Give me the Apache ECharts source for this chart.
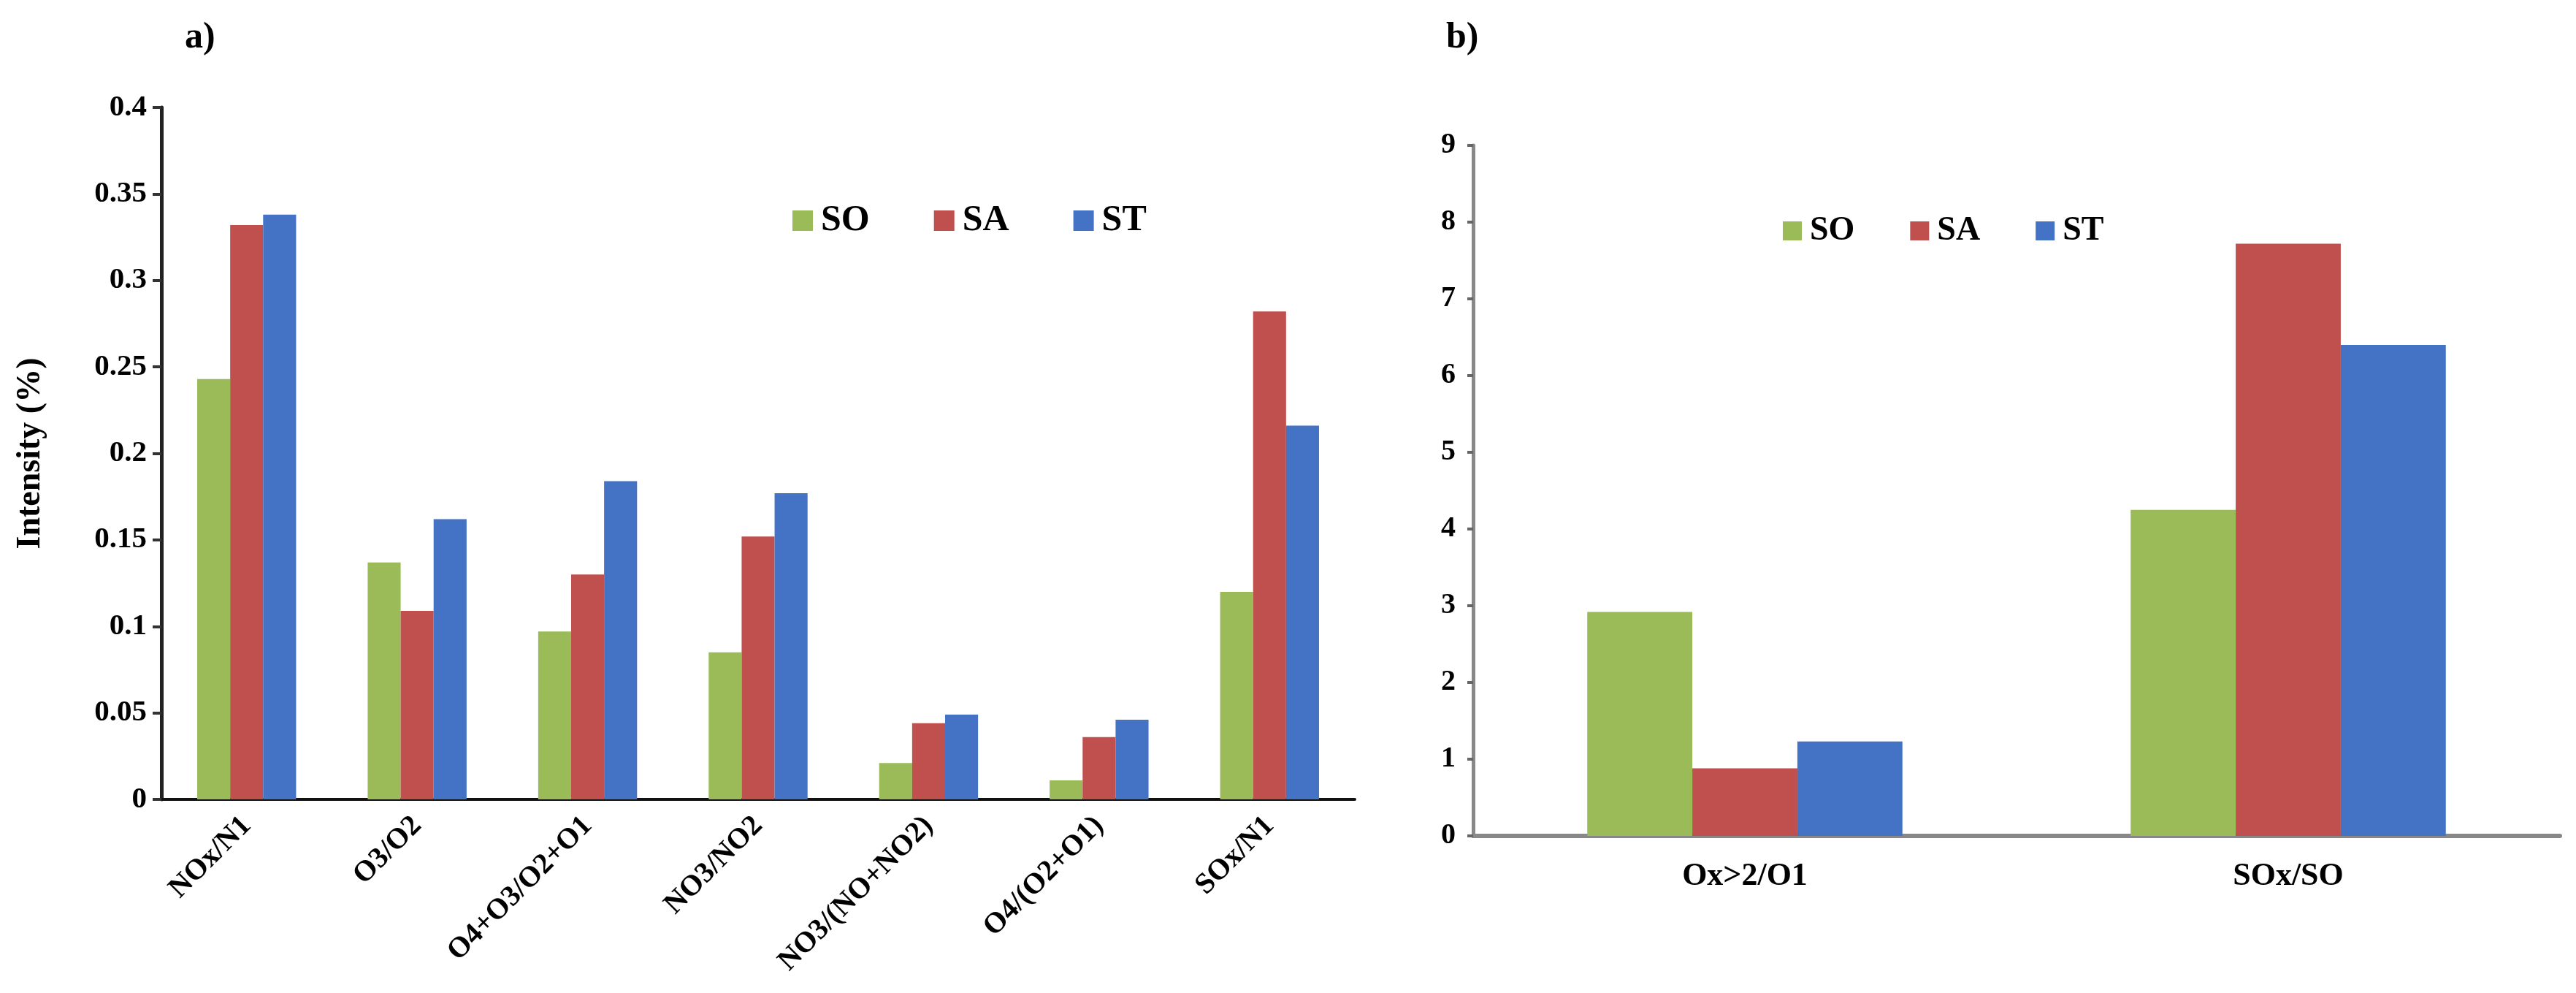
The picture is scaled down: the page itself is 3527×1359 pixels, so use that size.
<!DOCTYPE html>
<html>
<head>
<meta charset="utf-8">
<script src="https://cdn.jsdelivr.net/npm/echarts@6/dist/echarts.min.js"></script>
<style>
html,body{margin:0;padding:0;background:#fff;}
#c{width:3527px;height:1359px;}
</style>
</head>
<body>
<div id="c"></div>
<script>
const seriesNames = ['SO', 'SA', 'ST'];
const leftCategories = ['NOx/N1', 'O3/O2', 'O4+O3/O2+O1', 'NO3/NO2', 'NO3/(NO+NO2)', 'O4/(O2+O1)', 'SOx/N1'];
const leftSO = [0.243, 0.137, 0.097, 0.085, 0.021, 0.011, 0.120];
const leftSA = [0.332, 0.109, 0.130, 0.152, 0.044, 0.036, 0.282];
const leftST = [0.338, 0.162, 0.184, 0.177, 0.049, 0.046, 0.216];
const rightCategories = ['Ox>2/O1', 'SOx/SO'];
const rightSO = [2.92, 4.25];
const rightSA = [0.88, 7.72];
const rightST = [1.23, 6.40];
const colors = ['#9BBB59', '#C0504D', '#4472C4'];

const FONT = '"Liberation Serif", "Times New Roman", serif';
const chart = echarts.init(document.getElementById('c'), null, {renderer: 'canvas'});

function bar(name, data, idx, color) {
  return {
    name: name, type: 'bar', data: data,
    xAxisIndex: idx, yAxisIndex: idx,
    barGap: '0%', barCategoryGap: '42%',
    itemStyle: {color: color},
    emphasis: {disabled: true}
  };
}

const option = {
  backgroundColor: '#ffffff',
  animation: false,
  textStyle: {fontFamily: FONT},
  title: [
    {text: 'a)', left: 248, top: 22, textStyle: {fontFamily: FONT, fontSize: 50, fontWeight: 'bold', color: '#000'}},
    {text: 'b)', left: 1975, top: 22, textStyle: {fontFamily: FONT, fontSize: 50, fontWeight: 'bold', color: '#000'}}
  ],
  legend: [
    {
      data: seriesNames, left: 1080, top: 272, icon: 'rect', itemWidth: 28, itemHeight: 28, itemGap: 88,
      textStyle: {fontFamily: FONT, fontSize: 50, fontWeight: 'bold', color: '#000', padding: [0, 0, 0, 6]},
      selectedMode: false
    },
    {
      data: seriesNames, left: 2436, top: 288, icon: 'rect', itemWidth: 26, itemHeight: 26, itemGap: 76,
      textStyle: {fontFamily: FONT, fontSize: 46, fontWeight: 'bold', color: '#000', padding: [0, 0, 0, 6]},
      selectedMode: false
    }
  ],
  grid: [
    {left: 221, right: 1672, top: 147, bottom: 265, containLabel: false},
    {left: 2017, right: 22, top: 199, bottom: 215, containLabel: false}
  ],
  xAxis: [
    {
      type: 'category', gridIndex: 0, data: leftCategories,
      axisLine: {lineStyle: {color: '#111', width: 4}},
      axisTick: {show: false},
      axisLabel: {rotate: 45, margin: 30, interval: 0, fontFamily: FONT, fontSize: 40, fontWeight: 'bold', color: '#000'}
    },
    {
      type: 'category', gridIndex: 1, data: rightCategories,
      axisLine: {lineStyle: {color: '#888', width: 6}},
      axisTick: {show: false},
      axisLabel: {margin: 34, interval: 0, fontFamily: FONT, fontSize: 44, fontWeight: 'bold', color: '#000'}
    }
  ],
  yAxis: [
    {
      type: 'value', gridIndex: 0, min: 0, max: 0.4, interval: 0.05,
      name: 'Intensity (%)', nameLocation: 'middle', nameGap: 156, nameRotate: 90,
      nameTextStyle: {fontFamily: FONT, fontSize: 46, fontWeight: 'bold', color: '#000'},
      axisLine: {show: true, lineStyle: {color: '#222', width: 5}},
      axisTick: {show: true, length: 12, lineStyle: {color: '#333', width: 4}},
      splitLine: {show: false},
      axisLabel: {margin: 20, fontFamily: FONT, fontSize: 41, fontWeight: 'bold', color: '#000'}
    },
    {
      type: 'value', gridIndex: 1, min: 0, max: 9, interval: 1,
      axisLine: {show: true, lineStyle: {color: '#888', width: 5}},
      axisTick: {show: true, length: 8, lineStyle: {color: '#666', width: 4}},
      splitLine: {show: false},
      axisLabel: {margin: 24, fontFamily: FONT, fontSize: 40, fontWeight: 'bold', color: '#000'}
    }
  ],
  series: [
    bar('SO', leftSO, 0, colors[0]),
    bar('SA', leftSA, 0, colors[1]),
    bar('ST', leftST, 0, colors[2]),
    bar('SO', rightSO, 1, colors[0]),
    bar('SA', rightSA, 1, colors[1]),
    bar('ST', rightST, 1, colors[2])
  ]
};
chart.setOption(option);
</script>
</body>
</html>
